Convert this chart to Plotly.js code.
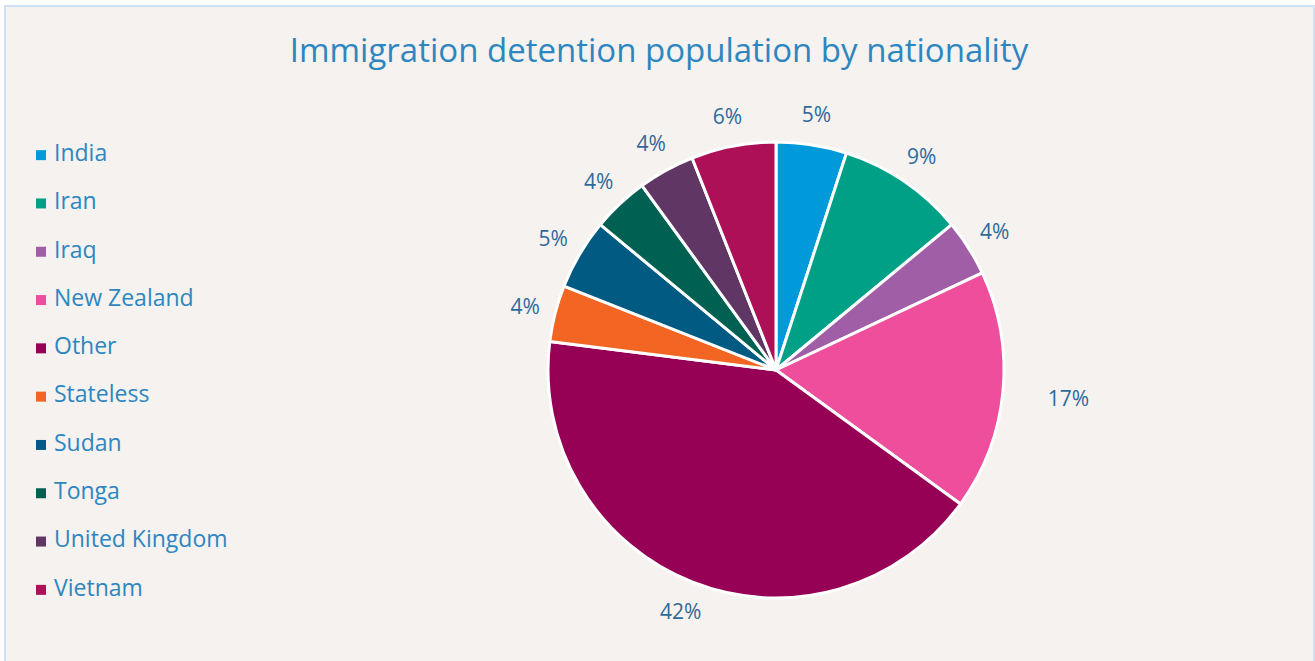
<!DOCTYPE html>
<html>
<head>
<meta charset="utf-8">
<script src="https://cdn.plot.ly/plotly-3.0.1.min.js"></script>
<style>
  html, body { margin: 0; padding: 0; width: 1315px; height: 661px; overflow: hidden; background: #ffffff; }
  #frame { position: absolute; left: 4px; top: 5px; width: 1311px; height: 720px; box-sizing: border-box;
           border: 2px solid #CFE2F3; background: #F5F2EF; }
  #chart { position: absolute; left: 0; top: 0; width: 1315px; height: 720px; }
</style>
</head>
<body>
<div id="frame"></div>
<div id="chart"></div>
<script>
// Data
const categories = ["India", "Iran", "Iraq", "New Zealand", "Other", "Stateless", "Sudan", "Tonga", "United Kingdom", "Vietnam"];
const shares = [5, 9, 4, 17, 42, 4, 5, 4, 4, 6];
const sliceColors = ["#009ADA", "#00A087", "#A05EA6", "#EF4E9C", "#960055", "#F26522", "#005A82", "#006152", "#5F3664", "#AE1058"];
const chartTitle = "Immigration detention population by nationality";

const W = 1315, H = 720;
const cx = 776, cy = 370, r = 228, rLabel = 290;
const labelPull = categories.map(c => (c === "New Zealand" ? 0.12 : 0));
const maxPull = Math.max(...labelPull);
const rRing = rLabel * (1 + maxPull);
const px2x = p => p / W;
const px2y = p => 1 - p / H;

const mainPie = {
  type: "pie",
  values: shares,
  labels: categories,
  sort: false,
  direction: "clockwise",
  rotation: 0,
  marker: { colors: sliceColors, line: { color: "#FFFFFF", width: 3 } },
  textinfo: "none",
  hoverinfo: "skip",
  showlegend: false,
  domain: { x: [px2x(cx - r), px2x(cx + r)], y: [px2y(cy + r), px2y(cy - r)] }
};

const labelRing = {
  type: "pie",
  values: shares,
  labels: categories,
  sort: false,
  direction: "clockwise",
  rotation: 0,
  hole: r / rLabel,
  pull: labelPull,
  marker: { colors: categories.map(() => "rgba(0,0,0,0)"), line: { width: 0 } },
  textinfo: "percent",
  texttemplate: "%{percent:.0%}",
  textposition: "inside",
  insidetextorientation: "horizontal",
  textfont: { family: "Open Sans", size: 21, color: "#2F6A9C" },
  hoverinfo: "skip",
  showlegend: false,
  domain: { x: [px2x(cx - rRing), px2x(cx + rRing)], y: [px2y(cy + rRing), px2y(cy - rRing)] }
};

const legendTrace = {
  type: "scatter",
  mode: "markers+text",
  x: categories.map(() => 0),
  y: categories,
  marker: { symbol: "square", size: 10, color: sliceColors, line: { width: 0 } },
  text: categories,
  texttemplate: "\u2005%{text}",
  textposition: "middle right",
  textfont: { family: "Open Sans", size: 23, color: "#2E86C1" },
  cliponaxis: false,
  hoverinfo: "skip",
  showlegend: false
};

const layout = {
  width: W, height: H,
  margin: { l: 0, r: 0, t: 0, b: 0 },
  paper_bgcolor: "rgba(0,0,0,0)",
  plot_bgcolor: "rgba(0,0,0,0)",
  showlegend: false,
  hovermode: false,
  title: {
    text: chartTitle,
    font: { family: "Open Sans", size: 33, color: "#2E86C1" },
    x: 659 / W, xanchor: "center",
    y: 1 - 50 / H, yanchor: "middle", yref: "container"
  },
  xaxis: { visible: false, range: [-41, W - 41], domain: [0, 1], fixedrange: true },
  yaxis: { visible: false, type: "category", range: [9.5, -0.5],
           domain: [px2y(614), px2y(131)], fixedrange: true }
};

Plotly.newPlot("chart", [mainPie, labelRing, legendTrace], layout, { displayModeBar: false, staticPlot: true });
</script>
</body>
</html>
